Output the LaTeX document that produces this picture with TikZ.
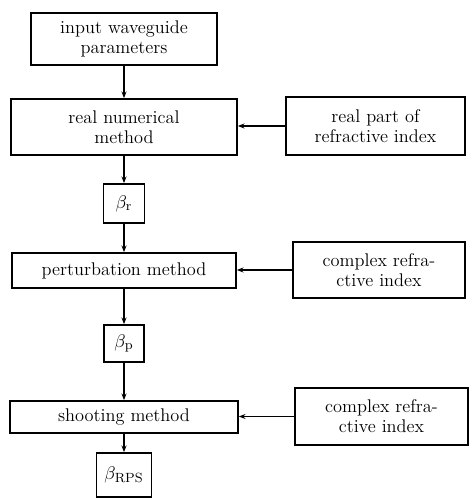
\documentclass[tikz,border=0pt]{standalone}
\usepackage{amsmath}
\usepackage{tikz}
\usetikzlibrary{positioning,arrows.meta}
\tikzstyle{blk}=[draw, line width=1pt, align=center, inner sep=2pt, font=\fontsize{11}{12}\selectfont]
\tikzstyle{lnk}=[line width=0.9pt, -{Stealth[length=4pt,width=3pt]}]

\begin{document}
\begin{tikzpicture}[x=0.6pt, y=-0.6pt]
				\useasboundingbox (0,0) rectangle (472,501);
				\node[blk, minimum width=111.6pt, minimum height=31.2pt] (inp) at (124, 39) {input waveguide\\parameters};
				\node[blk, minimum width=135.6pt, minimum height=33.6pt] (num) at (124, 127) {real numerical\\method};
				\node[blk, minimum width=24.6pt, minimum height=23.4pt] (br) at (124, 203.5) {$\beta_{\mathrm{r}}$};
				\node[blk, minimum width=134.4pt, minimum height=21pt] (pert) at (124, 270.5) {perturbation method};
				\node[blk, minimum width=24pt, minimum height=22.2pt] (bp) at (124, 343.5) {$\beta_{\mathrm{p}}$};
				\node[blk, minimum width=136.8pt, minimum height=19.2pt] (shoot) at (124, 417) {shooting method};
				\node[blk, minimum width=33pt, minimum height=26.4pt] (brps) at (124, 475) {$\beta_{\mathrm{RPS}}$};
				
				\node[blk, minimum width=107.4pt, minimum height=34.8pt] (rp1) at (375.5, 126) {real part of\\refractive index};
				\node[blk, minimum width=103.2pt, minimum height=33.6pt] (rp2) at (379, 270) {complex refra-\\ctive index};
				\node[blk, minimum width=103.8pt, minimum height=34.2pt] (rp3) at (381.5, 416.5) {complex refra-\\ctive index};
				
				\draw[lnk] (inp) -- (num);
				\draw[lnk] (num) -- (br);
				\draw[lnk] (br) -- (pert);
				\draw[lnk] (pert) -- (bp);
				\draw[lnk] (bp) -- (shoot);
				\draw[lnk] (shoot) -- (brps);
				
				\draw[lnk] (rp1.west) -- (rp1.west -| num.east);
				\draw[lnk] (rp2.west) -- (rp2.west -| pert.east);
				\draw[lnk] (rp3.west) -- (rp3.west -| shoot.east);
			\end{tikzpicture}
\end{document}
